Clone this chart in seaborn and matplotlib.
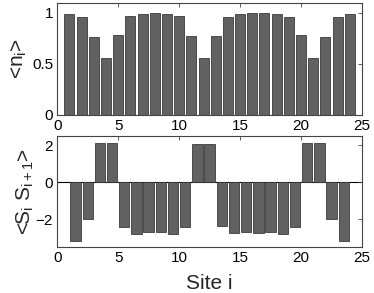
import numpy as np
import pandas as pd
import matplotlib
matplotlib.use("Agg")
import matplotlib.pyplot as plt
import seaborn as sns

# Data
sites = np.arange(1, 25)
density = [0.99, 0.96, 0.76, 0.56, 0.78, 0.97, 0.99, 1.00, 0.99, 0.97, 0.77, 0.56,
           0.77, 0.96, 0.99, 1.00, 1.00, 0.99, 0.96, 0.78, 0.56, 0.76, 0.96, 0.99]

bonds = np.arange(1, 24) + 0.5
spin_corr = [-3.14, -1.96, 2.14, 2.13, -2.43, -2.79, -2.68, -2.68, -2.79, -2.39, 2.09, 2.09,
             -2.36, -2.75, -2.66, -2.71, -2.66, -2.77, -2.41, 2.12, 2.12, -1.96, -3.14]

xticks = [0, 5, 10, 15, 20, 25]

sns.set_style("white")
plt.rcParams["font.family"] = ["Liberation Sans", "DejaVu Sans"]
plt.rcParams["mathtext.fontset"] = "custom"
plt.rcParams["mathtext.rm"] = "Liberation Sans"
plt.rcParams["mathtext.it"] = "Liberation Sans"

df_n = pd.DataFrame({"site": sites, "n": density})
df_s = pd.DataFrame({"bond": bonds, "s": spin_corr})

fig = plt.figure(figsize=(3.74, 2.93), dpi=100)
ax1 = fig.add_axes([0.153, 0.609, 0.815, 0.382])
ax2 = fig.add_axes([0.153, 0.156, 0.815, 0.380])

bar_color = "#616161"
edge_color = "#3a3a3a"

sns.barplot(data=df_n, x="site", y="n", native_scale=True, width=0.82,
            color=bar_color, edgecolor=edge_color, linewidth=0.6,
            saturation=1, errorbar=None, ax=ax1)
sns.barplot(data=df_s, x="bond", y="s", native_scale=True, width=0.85,
            color=bar_color, edgecolor=edge_color, linewidth=0.6,
            saturation=1, errorbar=None, ax=ax2)

ax2.axhline(0, color="black", linewidth=0.8, zorder=0.5)

ax1.set_xlim(0, 25)
ax1.set_ylim(0, 1.1)
ax1.set_yticks([0, 0.5, 1])
ax1.set_yticklabels(["0", "0.5", "1"])
ax2.set_xlim(0, 25)
ax2.set_ylim(-3.5, 2.5)
ax2.set_yticks([-2, 0, 2])
ax2.set_yticklabels(["\u22122", "0", "2"])

for ax in (ax1, ax2):
    ax.set_xticks(xticks)
    ax.set_xticklabels([str(t) for t in xticks])
    ax.tick_params(direction="in", length=3, width=0.6, labelsize=11,
                   top=True, right=True, colors="#444444", labelcolor="black", pad=3)
    for sp in ax.spines.values():
        sp.set_visible(True)
        sp.set_color("#444444")
        sp.set_linewidth(0.8)

ax1.set_xlabel("")
ax1.set_ylabel("<n$_\\mathrm{i}$>", fontsize=15, labelpad=2)
ax2.set_xlabel("Site i", fontsize=15, labelpad=6)
ax2.set_ylabel("<S$_\\mathrm{i}$ S$_\\mathrm{i+1}$>", fontsize=15, labelpad=0)

fig.savefig("out.png", dpi=100)
